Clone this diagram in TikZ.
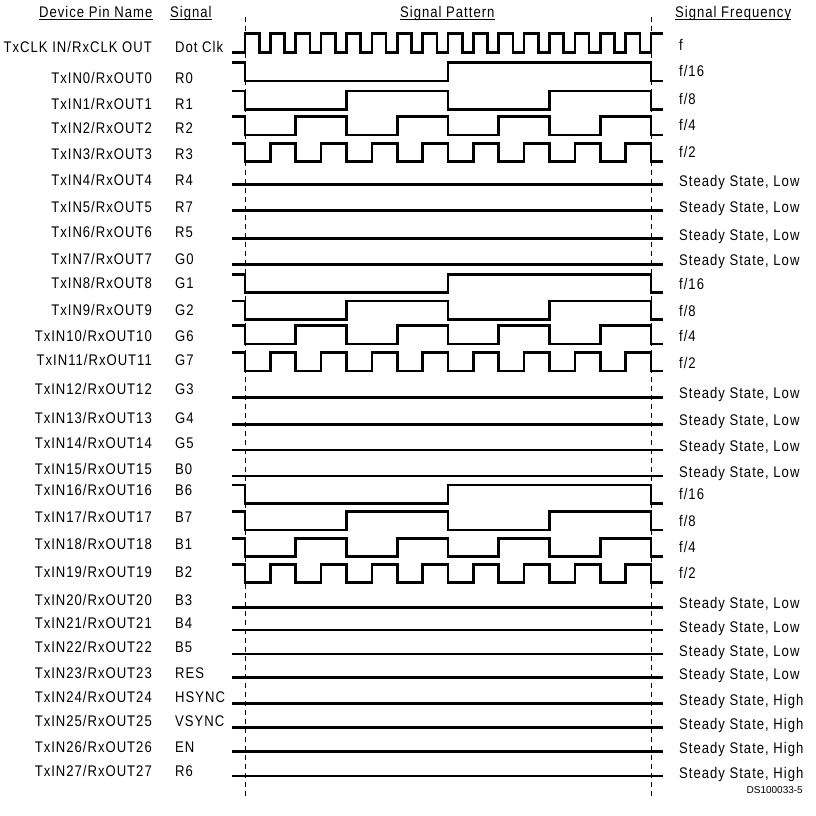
\documentclass[tikz,border=0pt]{standalone}
\usepackage{fontspec}
\setmainfont{Liberation Sans}[FakeStretch=0.85, LetterSpace=6.5]
\newfontfamily\dsfont{Liberation Sans}
\tikzset{
  wave/.style={line width=2.6pt},
  guide/.style={line width=1pt, dash pattern=on 5pt off 4pt},
  pin/.style={anchor=mid east, inner sep=0pt, yshift=-1.5pt},
  sig/.style={anchor=mid west, inner sep=0pt, yshift=-1.5pt},
  freq/.style={anchor=mid west, inner sep=0pt, yshift=-1.5pt},
  head/.style={anchor=base west, inner sep=0pt},
  uline/.style={line width=1pt}
}
% steady level over the whole window
\newcommand{\steadyline}[1]{\draw[wave] (232,#1) -- (663,#1);}
% divided clock: low level, half period, number of periods
\newcommand{\divwave}[3]{\draw[wave] (232,#1-18.5) -- (245,#1-18.5) -- (245,#1) \foreach \k in {1,...,#3}{-- ++(#2,0) -- ++(0,-18.5) -- ++(#2,0) -- ++(0,18.5)} -- (663,#1);}
\begin{document}
\begin{tikzpicture}[x=1pt, y=-1pt, font=\fontsize{15.4}{17}\selectfont]
\fill[white] (0,0) rectangle (815,816);
\useasboundingbox (0,0) rectangle (815,816);
% headings
\node[head] (hpin) at (39,17.3) {Device Pin Name};
\node[head] (hsig) at (170,17.3) {Signal};
\node[head] (hpat) at (400,17.3) {Signal Pattern};
\node[head] (hfrq) at (675,17.3) {Signal Frequency};
\draw[uline] ([yshift=-2.2pt]hpin.base west) -- ([yshift=-2.2pt]hpin.base east);
\draw[uline] ([yshift=-2.2pt]hsig.base west) -- ([yshift=-2.2pt]hsig.base east);
\draw[uline] ([yshift=-2.2pt]hpat.base west) -- ([yshift=-2.2pt]hpat.base east);
\draw[uline] ([yshift=-2.2pt]hfrq.base west) -- ([yshift=-2.2pt]hfrq.base east);
% window limits
\draw[guide] (245,17) -- (245,797);
\draw[guide] (651,17) -- (651,797);
% dot clock
\node[pin] (pinclk) at (152,48) {TxCLK IN/RxCLK OUT}; \node[sig] (sigclk) at (175,48) {Dot Clk}; \node[freq] (frqclk) at (679,46.5) {f};
\draw[wave] (232,52.3) -- (245,52.3) \foreach \k in {1,...,16}{-- ++(0,-19) -- ++(14.2,0) -- ++(0,19) -- ++(11.175,0)} -- ++(0,-19) -- (663,33.3);
% red
\node[pin] (pin0) at (152,79) {TxIN0/RxOUT0}; \node[sig] (sig0) at (175,79) {R0}; \node[freq] (frq0) at (679,72.7) {f/16}; \divwave{81}{203}{1}
\node[pin] (pin1) at (152,105) {TxIN1/RxOUT1}; \node[sig] (sig1) at (175,105) {R1}; \node[freq] (frq1) at (679,100.5) {f/8}; \divwave{109.3}{101.5}{2}
\node[pin] (pin2) at (152,129.5) {TxIN2/RxOUT2}; \node[sig] (sig2) at (175,129.5) {R2}; \node[freq] (frq2) at (679,126.7) {f/4}; \divwave{135}{50.75}{4}
\node[pin] (pin3) at (152,155) {TxIN3/RxOUT3}; \node[sig] (sig3) at (175,155) {R3}; \node[freq] (frq3) at (679,153.3) {f/2}; \divwave{161.7}{25.375}{8}
\node[pin] (pin4) at (152,181) {TxIN4/RxOUT4}; \node[sig] (sig4) at (175,181) {R4}; \node[freq] (frq4) at (679,182.3) {Steady State, Low}; \steadyline{184.3}
\node[pin] (pin5) at (152,208) {TxIN5/RxOUT5}; \node[sig] (sig5) at (175,208) {R7}; \node[freq] (frq5) at (679,208.7) {Steady State, Low}; \steadyline{210.7}
\node[pin] (pin6) at (152,233.5) {TxIN6/RxOUT6}; \node[sig] (sig6) at (175,233.5) {R5}; \node[freq] (frq6) at (679,236.3) {Steady State, Low}; \steadyline{238.3}
% green
\node[pin] (pin7) at (152,260) {TxIN7/RxOUT7}; \node[sig] (sig7) at (175,260) {G0}; \node[freq] (frq7) at (679,261.3) {Steady State, Low}; \steadyline{264.3}
\node[pin] (pin8) at (152,284.5) {TxIN8/RxOUT8}; \node[sig] (sig8) at (175,284.5) {G1}; \node[freq] (frq8) at (679,285.7) {f/16}; \divwave{292.7}{203}{1}
\node[pin] (pin9) at (152,311.5) {TxIN9/RxOUT9}; \node[sig] (sig9) at (175,311.5) {G2}; \node[freq] (frq9) at (679,312.3) {f/8}; \divwave{319.3}{101.5}{2}
\node[pin] (pin10) at (152,337) {TxIN10/RxOUT10}; \node[sig] (sig10) at (175,337) {G6}; \node[freq] (frq10) at (679,337.3) {f/4}; \divwave{344}{50.75}{4}
\node[pin] (pin11) at (152,361) {TxIN11/RxOUT11}; \node[sig] (sig11) at (175,361) {G7}; \node[freq] (frq11) at (679,364) {f/2}; \divwave{371}{25.375}{8}
\node[pin] (pin12) at (152,390.5) {TxIN12/RxOUT12}; \node[sig] (sig12) at (175,390.5) {G3}; \node[freq] (frq12) at (679,394.3) {Steady State, Low}; \steadyline{397.3}
\node[pin] (pin13) at (152,419) {TxIN13/RxOUT13}; \node[sig] (sig13) at (175,419) {G4}; \node[freq] (frq13) at (679,421.3) {Steady State, Low}; \steadyline{424.3}
\node[pin] (pin14) at (152,444.5) {TxIN14/RxOUT14}; \node[sig] (sig14) at (175,444.5) {G5}; \node[freq] (frq14) at (679,447) {Steady State, Low}; \steadyline{450}
% blue
\node[pin] (pin15) at (152,470.5) {TxIN15/RxOUT15}; \node[sig] (sig15) at (175,470.5) {B0}; \node[freq] (frq15) at (679,473) {Steady State, Low}; \steadyline{476}
\node[pin] (pin16) at (152,491) {TxIN16/RxOUT16}; \node[sig] (sig16) at (175,491) {B6}; \node[freq] (frq16) at (679,495.3) {f/16}; \divwave{503.3}{203}{1}
\node[pin] (pin17) at (152,518) {TxIN17/RxOUT17}; \node[sig] (sig17) at (175,518) {B7}; \node[freq] (frq17) at (679,522) {f/8}; \divwave{530}{101.5}{2}
\node[pin] (pin18) at (152,545) {TxIN18/RxOUT18}; \node[sig] (sig18) at (175,545) {B1}; \node[freq] (frq18) at (679,548.7) {f/4}; \divwave{556.7}{50.75}{4}
\node[pin] (pin19) at (152,573) {TxIN19/RxOUT19}; \node[sig] (sig19) at (175,573) {B2}; \node[freq] (frq19) at (679,574.7) {f/2}; \divwave{582.7}{25.375}{8}
\node[pin] (pin20) at (152,601.5) {TxIN20/RxOUT20}; \node[sig] (sig20) at (175,601.5) {B3}; \node[freq] (frq20) at (679,604.3) {Steady State, Low}; \steadyline{607.3}
\node[pin] (pin21) at (152,624.5) {TxIN21/RxOUT21}; \node[sig] (sig21) at (175,624.5) {B4}; \node[freq] (frq21) at (679,628) {Steady State, Low}; \steadyline{630}
\node[pin] (pin22) at (152,648) {TxIN22/RxOUT22}; \node[sig] (sig22) at (175,648) {B5}; \node[freq] (frq22) at (679,652) {Steady State, Low}; \steadyline{654}
% control
\node[pin] (pin23) at (152,674) {TxIN23/RxOUT23}; \node[sig] (sig23) at (175,674) {RES}; \node[freq] (frq23) at (679,675.3) {Steady State, Low}; \steadyline{677.3}
\node[pin] (pin24) at (152,698.5) {TxIN24/RxOUT24}; \node[sig] (sig24) at (175,698.5) {HSYNC}; \node[freq] (frq24) at (679,701.3) {Steady State, High}; \steadyline{703.3}
\node[pin] (pin25) at (152,722.5) {TxIN25/RxOUT25}; \node[sig] (sig25) at (175,722.5) {VSYNC}; \node[freq] (frq25) at (679,725.7) {Steady State, High}; \steadyline{727.7}
\node[pin] (pin26) at (152,748) {TxIN26/RxOUT26}; \node[sig] (sig26) at (175,748) {EN}; \node[freq] (frq26) at (679,749.7) {Steady State, High}; \steadyline{751.7}
\node[pin] (pin27) at (152,772.5) {TxIN27/RxOUT27}; \node[sig] (sig27) at (175,772.5) {R6}; \node[freq] (frq27) at (679,774.7) {Steady State, High}; \steadyline{776}
% drawing number
\node[anchor=base east, inner sep=0pt, font=\dsfont\fontsize{10}{12}\selectfont] (dsno) at (803,793) {DS100033-5};
\end{tikzpicture}
\end{document}
